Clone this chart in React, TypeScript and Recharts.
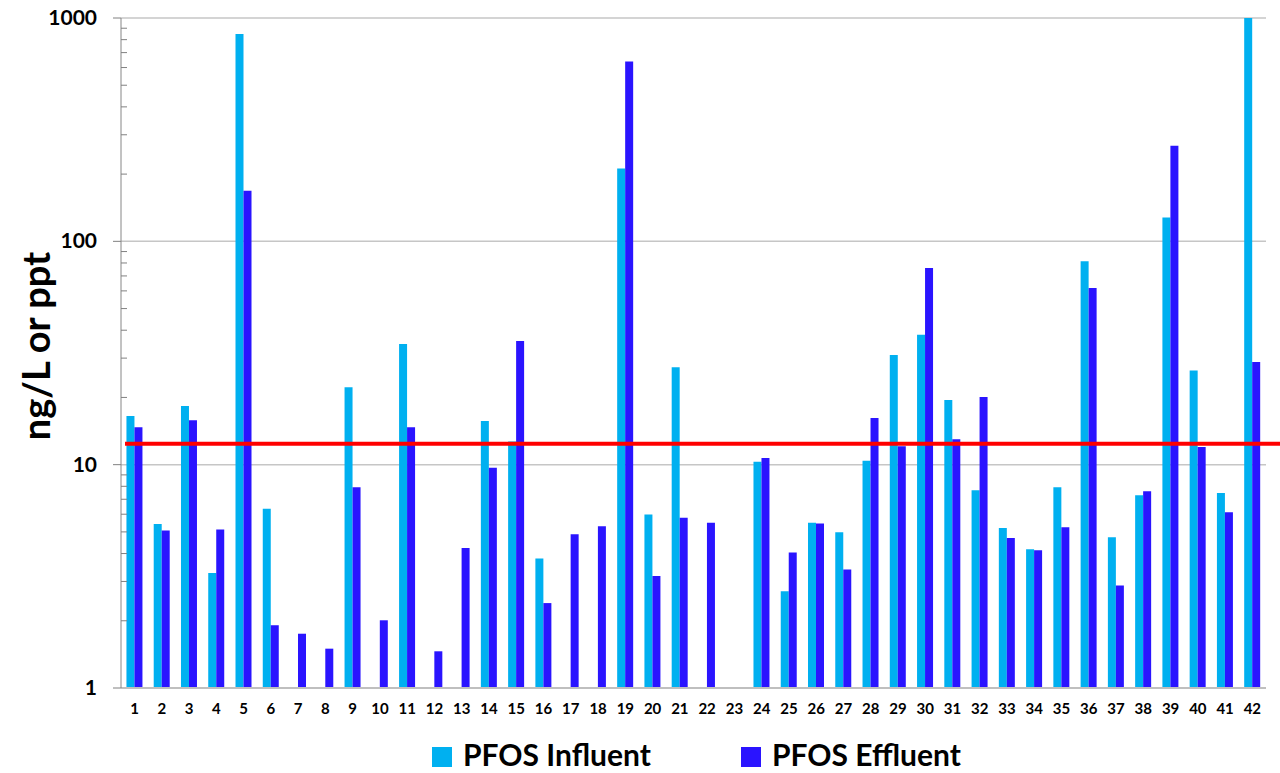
import React from 'react';
import { BarChart, Bar, XAxis, YAxis, CartesianGrid, ReferenceLine, Legend } from 'recharts';

const categories = ['1','2','3','4','5','6','7','8','9','10','11','12','13','14','15','16','17','18','19','20','21','22','23','24','25','26','27','28','29','30','31','32','33','34','35','36','37','38','39','40','41','42'];

const influent: (number | null)[] = [16.5, 5.43, 18.3, 3.27, 848, 6.34, null, null, 22.2, null, 34.7, null, null, 15.7, 12.7, 3.8, null, null, 212, 5.98, 27.3, null, null, 10.3, 2.71, 5.49, 4.98, 10.4, 31.0, 38.2, 19.5, 7.69, 5.21, 4.18, 7.93, 81.4, 4.73, 7.3, 128, 26.4, 7.47, 1000];

const effluent: (number | null)[] = [14.7, 5.07, 15.8, 5.12, 168.6, 1.91, 1.75, 1.5, 7.93, 2.01, 14.7, 1.46, 4.24, 9.68, 35.8, 2.4, 4.88, 5.3, 638, 3.17, 5.78, 5.49, null, 10.7, 4.04, 5.45, 3.39, 16.2, 12.1, 75.9, 13.0, 20.1, 4.7, 4.14, 5.25, 61.8, 2.88, 7.61, 268, 12.0, 6.13, 28.8];

const majorTicks = [1, 10, 100, 1000];
const minorTicks = [2, 3, 4, 5, 6, 7, 8, 9, 20, 30, 40, 50, 60, 70, 80, 90, 200, 300, 400, 500, 600, 700, 800, 900];
const threshold = 12.4;

const seriesNames = { influent: 'PFOS Influent', effluent: 'PFOS Effluent' };
const colors = { influent: '#00B0F0', effluent: '#2A14FF' };

const data = categories.map((c, i) => ({ name: c, influent: influent[i], effluent: effluent[i] }));
const allTicks = [...majorTicks, ...minorTicks].sort((a, b) => a - b);

const FONT = 'Lato, "Open Sans", sans-serif';

const YTick = (props: any) => {
  const { x, y, payload } = props;
  const v = payload.value;
  const isMajor = majorTicks.includes(v);
  if (isMajor) {
    return (
      <g>
        <line x1={x - 8} x2={x} y1={y} y2={y} stroke="#808080" strokeWidth={1} />
        <text x={x - 24} y={y} dy={7} textAnchor="end" fontFamily={FONT} fontWeight={700} fontSize={21} fill="#000">
          {v}
        </text>
      </g>
    );
  }
  return <line x1={x} x2={x + 6} y1={y} y2={y} stroke="#808080" strokeWidth={1} />;
};

const XTick = (props: any) => {
  const { x, y, payload } = props;
  return (
    <text x={x} y={y} dy={18} textAnchor="middle" fontFamily={FONT} fontWeight={700} fontSize={15} fill="#000">
      {payload.value}
    </text>
  );
};

const YTitle = (props: any) => {
  const vb = props.viewBox;
  const cx = vb.x + 50;
  const cy = vb.y + vb.height / 2 - 7;
  return (
    <text x={cx} y={cy} textAnchor="middle" transform={`rotate(-90, ${cx}, ${cy})`} fontFamily={FONT} fontWeight={700} fontSize={38} fill="#000">
      ng/L or ppt
    </text>
  );
};

const RedLine = (props: any) => {
  const { x1, x2, y1, y2 } = props;
  return <line x1={x1 + 4} x2={x2 + 14} y1={y1} y2={y2} stroke="#FF0000" strokeWidth={4} />;
};

const LegendContent = () => (
  <div style={{ height: 50, position: 'relative', width: 1280, fontFamily: FONT, fontWeight: 700, fontSize: 30, color: '#000' }}>
    {(['influent', 'effluent'] as const).map((k, i) => (
      <div key={k} style={{ position: 'absolute', left: i === 0 ? 432 : 741, top: 17, height: 28, display: 'flex', alignItems: 'center', whiteSpace: 'nowrap' }}>
        <span style={{ display: 'inline-block', width: 20, height: 20, background: colors[k], marginRight: 11, position: 'relative', top: 3 }} />
        <span style={{ lineHeight: '28px', height: 28, display: 'inline-block' }}>{seriesNames[k]}</span>
      </div>
    ))}
  </div>
);

export default function App() {
  return (
    <div style={{ position: 'absolute', left: 0, top: 0, width: 1280, height: 773, background: '#fff' }}>
      <BarChart
        width={1280}
        height={773}
        data={data}
        margin={{ top: 18, right: 14, left: 0, bottom: 0 }}
        barGap={0}
        barCategoryGap="20%"
      >
        <CartesianGrid horizontal={true} vertical={false} stroke="#C6C6C6" strokeWidth={1.5} horizontalValues={majorTicks} />
        <XAxis
          dataKey="name"
          height={35}
          interval={0}
          tickLine={false}
          axisLine={{ stroke: '#BFBFBF', strokeWidth: 2 }}
          tick={<XTick />}
        />
        <YAxis
          scale="log"
          domain={[1, 1000]}
          ticks={allTicks}
          interval={0}
          width={121}
          tickSize={0}
          tickMargin={0}
          tickLine={false}
          axisLine={{ stroke: '#868686', strokeWidth: 1 }}
          tick={<YTick />}
          allowDataOverflow
          label={<YTitle />}
        />
        <Bar dataKey="influent" name={seriesNames.influent} fill={colors.influent} isAnimationActive={false} />
        <Bar dataKey="effluent" name={seriesNames.effluent} fill={colors.effluent} isAnimationActive={false} />
        <ReferenceLine y={threshold} shape={<RedLine />} ifOverflow="visible" />
        <Legend verticalAlign="bottom" align="left" height={50} wrapperStyle={{ left: 0, width: 1280 }} content={<LegendContent />} />
      </BarChart>
    </div>
  );
}
